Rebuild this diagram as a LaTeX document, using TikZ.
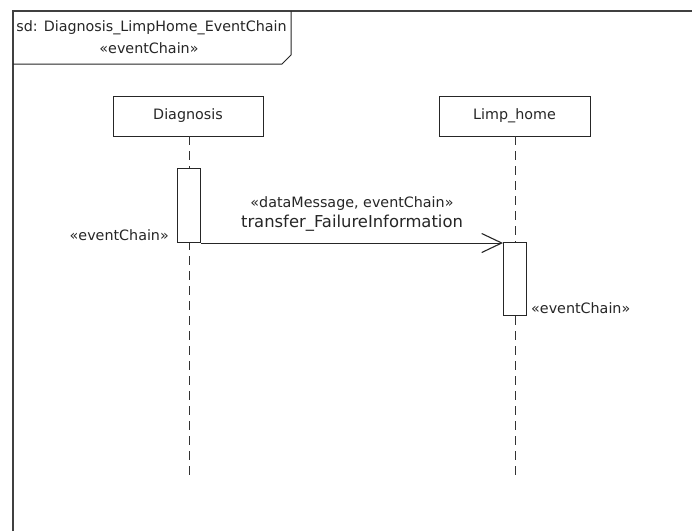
\documentclass[tikz,border=0pt]{standalone}
\usepackage{fontspec}
\setmainfont{DejaVu Sans}
\usetikzlibrary{arrows.meta}
\tikzset{
  px/.style={x=1pt,y=-1pt},
  txt/.style={inner sep=0pt, font=\fontsize{14.3}{16}\selectfont, text=black!85},
  bigtxt/.style={inner sep=0pt, font=\fontsize{16.4}{18}\selectfont, text=black!85},
  lifebox/.style={draw=black!85, line width=1pt, fill=white},
  lifeline/.style={draw=black!80, line width=1pt, dash pattern=on 9pt off 6pt},
  framel/.style={draw=black!75, line width=1.6pt},
  msg/.style={draw=black!85, line width=1pt, -{Straight Barb[length=20pt,width=19pt,line width=1.1pt]}}
}
\begin{document}
\begin{tikzpicture}[px]
\useasboundingbox (0,0) rectangle (692,531);
\fill[white] (0,0) rectangle (692,531);
% frame
\draw[framel] (13,531) -- (13,11) -- (692,11);
\draw[draw=black!85, line width=1pt] (13,64) -- (282,64) -- (291,55) -- (291,11);
\node[txt] (title) at (151.5,28) {sd: Diagnosis\_LimpHome\_EventChain};
\node[txt] (titlest) at (149,48) {«eventChain»};
% lifeline heads
\node[lifebox, minimum width=150pt, minimum height=40pt, inner sep=0pt] (diag) at (188,116) {};
\node[txt] at (diag.center) {Diagnosis};
\node[lifebox, minimum width=151pt, minimum height=40pt, inner sep=0pt] (limp) at (514.5,116) {};
\node[txt] at (limp.center) {Limp\_home};
% lifelines
\coordinate (diagend) at (189,476);
\coordinate (limpend) at (515,476);
\draw[lifeline] (189,136) -- (diagend);
\draw[lifeline] (515,136) -- (limpend);
% activations
\node[lifebox, minimum width=23pt, minimum height=74pt, inner sep=0pt, anchor=north west] (act1) at (177,168) {};
\node[lifebox, minimum width=23pt, minimum height=73pt, inner sep=0pt, anchor=north west] (act2) at (503,242) {};
% message
\draw[msg] (act1.south east) -- (act1.south east -| act2.west);
\node[txt] (m1) at (352,204) {«dataMessage, eventChain»};
\node[bigtxt] (m2) at (352,223) {transfer\_FailureInformation};
% stereotype labels
\node[txt, anchor=east] (l1) at (169,235) {«eventChain»};
\node[txt, anchor=west] (l2) at (531,308) {«eventChain»};
\end{tikzpicture}
\end{document}
